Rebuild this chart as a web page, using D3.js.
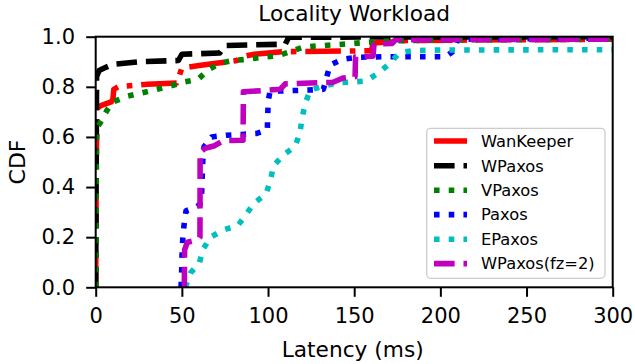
<!DOCTYPE html>
<html>
<head>
<meta charset="utf-8">
<script src="https://cdn.jsdelivr.net/npm/d3@7"></script>
<style>
  html, body { margin: 0; padding: 0; background: #fff; }
  svg { display: block; }
  text { font-family: "DejaVu Sans", sans-serif; fill: #000; }
</style>
</head>
<body>
<div id="chart"></div>
<script>
// ---------------- data ----------------
const chartTitle = "Locality Workload";
const xLabel = "Latency (ms)";
const yLabel = "CDF";
const latencyTicks = [0, 50, 100, 150, 200, 250, 300];
const cdfTicks = [0.0, 0.2, 0.4, 0.6, 0.8, 1.0];
const seriesNames = ["WanKeeper", "WPaxos", "VPaxos", "Paxos", "EPaxos", "WPaxos(fz=2)"];

const wanKeeperLatency = [0, 0.3, 0.8, 3, 9, 10, 10.5, 13, 30, 47, 50, 60, 71, 82, 85, 92, 100, 108, 160, 161, 172, 180, 300];
const wanKeeperCdf     = [0, 0.5, 0.715, 0.725, 0.74, 0.75, 0.79, 0.80, 0.81, 0.815, 0.875, 0.885, 0.895, 0.905, 0.92, 0.93, 0.935, 0.94, 0.944, 0.975, 0.98, 0.985, 0.99];

const wPaxosLatency = [0, 0.5, 2, 5, 10, 25, 48, 50, 72, 75, 110, 112, 300];
const wPaxosCdf     = [0, 0.84, 0.865, 0.875, 0.89, 0.9, 0.905, 0.93, 0.935, 0.965, 0.97, 0.998, 1.0];

const vPaxosLatency = [0, 0.5, 1, 2.5, 6.6, 10, 18.7, 26.9, 35.6, 43.1, 51.8, 59.4, 65.2, 72.1, 79.7, 88.4, 97.1, 105.2, 112.7, 120.3, 128.4, 137.1, 145.8, 154.5, 163, 172, 200, 300];
const vPaxosCdf     = [0, 0.6, 0.64, 0.655, 0.707, 0.74, 0.763, 0.776, 0.79, 0.803, 0.82, 0.83, 0.867, 0.894, 0.905, 0.91, 0.918, 0.923, 0.94, 0.958, 0.963, 0.967, 0.971, 0.976, 0.98, 0.983, 0.987, 0.99];

const paxosLatency = [49.5, 49.9, 50.1, 50.5, 51.2, 52.4, 58, 60.5, 61.5, 62.1, 62.8, 67.3, 76, 84.7, 93.4, 99.6, 99.8, 100.2, 101.1, 106.5, 114.7, 123.4, 132.1, 134.5, 136, 143.3, 151.5, 168.9, 203.1, 207.9, 210, 300];
const paxosCdf     = [0, 0.07, 0.13, 0.19, 0.245, 0.305, 0.32, 0.33, 0.38, 0.5, 0.56, 0.6, 0.607, 0.61, 0.614, 0.628, 0.687, 0.747, 0.78, 0.783, 0.785, 0.787, 0.79, 0.85, 0.887, 0.91, 0.918, 0.92, 0.92, 0.944, 0.99, 0.995];

const ePaxosLatency = [52, 55.1, 60.1, 62.4, 66.7, 74, 82.4, 87.2, 92, 98.8, 101.5, 103.1, 108.9, 115.6, 118.5, 119.7, 121.5, 124.4, 132.1, 140.2, 148.7, 157.3, 163.6, 170.4, 176.2, 184, 200, 300];
const ePaxosCdf     = [0, 0.058, 0.096, 0.153, 0.2, 0.229, 0.246, 0.29, 0.336, 0.372, 0.428, 0.484, 0.528, 0.561, 0.615, 0.674, 0.731, 0.787, 0.803, 0.816, 0.819, 0.824, 0.854, 0.891, 0.936, 0.944, 0.947, 0.948];

const wPaxosFz2Latency = [51.4, 51.6, 53.2, 59.5, 60.5, 60.6, 63.5, 69, 74, 85.5, 85.7, 96.5, 107, 110, 137.7, 143.5, 150.5, 150.8, 160.9, 161.5, 171.9, 174, 300];
const wPaxosFz2Cdf     = [0, 0.15, 0.18, 0.19, 0.2, 0.54, 0.555, 0.565, 0.585, 0.587, 0.78, 0.785, 0.79, 0.812, 0.818, 0.835, 0.84, 0.92, 0.922, 0.97, 0.973, 0.988, 0.99];

const seriesLatency = [wanKeeperLatency, wPaxosLatency, vPaxosLatency, paxosLatency, ePaxosLatency, wPaxosFz2Latency];
const seriesCdf = [wanKeeperCdf, wPaxosCdf, vPaxosCdf, paxosCdf, ePaxosCdf, wPaxosFz2Cdf];

// ---------------- styles ----------------
const seriesStyle = [
  { color: "#ff0000", dash: "35.6,8.9,5.6,8.9" },
  { color: "#000000", dash: "20.6,8.9" },
  { color: "#008000", dash: "5.56,9.17" },
  { color: "#0000ff", dash: "5.56,9.17" },
  { color: "#00bfbf", dash: "5.56,9.17" },
  { color: "#bf00bf", dash: "20.6,8.9" }
];
const lineWidth = 5.56;

const W = 635, H = 364;
const plot = { left: 95.7, right: 612.7, top: 36.7, bottom: 287.3 };

const svg = d3.select("#chart").append("svg").attr("width", W).attr("height", H);

const x = d3.scaleLinear().domain([0, 300]).range([plot.left, plot.right]);
const y = d3.scaleLinear().domain([0, 1]).range([plot.bottom, plot.top]);

svg.append("defs").append("clipPath").attr("id", "clip")
  .append("rect")
  .attr("x", plot.left).attr("y", plot.top)
  .attr("width", plot.right - plot.left).attr("height", plot.bottom - plot.top);

// lines
const line = d3.line().x(d => x(d[0])).y(d => y(d[1]));
const gLines = svg.append("g").attr("clip-path", "url(#clip)");
seriesNames.forEach((name, i) => {
  const pts = seriesLatency[i].map((v, j) => [v, seriesCdf[i][j]]);
  gLines.append("path")
    .attr("d", line(pts))
    .attr("fill", "none")
    .attr("stroke", seriesStyle[i].color)
    .attr("stroke-width", lineWidth)
    .attr("stroke-dasharray", seriesStyle[i].dash)
    .attr("stroke-linejoin", "round")
    .attr("stroke-linecap", "butt");
});

// frame
svg.append("rect")
  .attr("x", plot.left).attr("y", plot.top)
  .attr("width", plot.right - plot.left).attr("height", plot.bottom - plot.top)
  .attr("fill", "none").attr("stroke", "#000").attr("stroke-width", 2);

// axes
const fontSize = 21;
const xAxis = svg.append("g").attr("transform", `translate(0,${plot.bottom})`)
  .call(d3.axisBottom(x).tickValues(latencyTicks).tickSize(9.5).tickPadding(11.5).tickSizeOuter(0).tickFormat(d3.format("d")));
const yAxis = svg.append("g").attr("transform", `translate(${plot.left},0)`)
  .call(d3.axisLeft(y).tickValues(cdfTicks).tickSize(9.5).tickPadding(11.2).tickSizeOuter(0).tickFormat(d3.format(".1f")));
[xAxis, yAxis].forEach(a => {
  a.select(".domain").remove();
  a.selectAll(".tick line").attr("stroke", "#000").attr("stroke-width", 2);
  a.selectAll(".tick text").attr("font-size", fontSize).attr("font-family", "DejaVu Sans").attr("fill", "#000");
});

// title & labels
svg.append("text").attr("x", (plot.left + plot.right) / 2).attr("y", 21)
  .attr("text-anchor", "middle").attr("font-size", 21.7).text(chartTitle);
svg.append("text").attr("x", (plot.left + plot.right) / 2 - 1.5).attr("y", 357)
  .attr("text-anchor", "middle").attr("font-size", 21.7).text(xLabel);
svg.append("text")
  .attr("transform", `translate(25,${(plot.top + plot.bottom) / 2}) rotate(-90)`)
  .attr("text-anchor", "middle").attr("font-size", 22).text(yLabel);

// legend
const lg = svg.append("g");
lg.append("rect")
  .attr("x", 426.7).attr("y", 128.3).attr("width", 605 - 426.7).attr("height", 278.3 - 128.3)
  .attr("rx", 4).attr("ry", 4)
  .attr("fill", "#fff").attr("fill-opacity", 0.8)
  .attr("stroke", "#cccccc").attr("stroke-width", 1.3);
const legendRows = [141, 165.7, 190.2, 214.6, 239.2, 263.6];
seriesNames.forEach((name, i) => {
  const yy = legendRows[i];
  lg.append("line")
    .attr("x1", 434).attr("x2", 467).attr("y1", yy).attr("y2", yy)
    .attr("stroke", seriesStyle[i].color)
    .attr("stroke-width", lineWidth)
    .attr("stroke-dasharray", seriesStyle[i].dash);
  lg.append("text").attr("x", 481).attr("y", yy).attr("dy", "0.36em")
    .attr("font-size", 16.3).text(name);
});
</script>
</body>
</html>
